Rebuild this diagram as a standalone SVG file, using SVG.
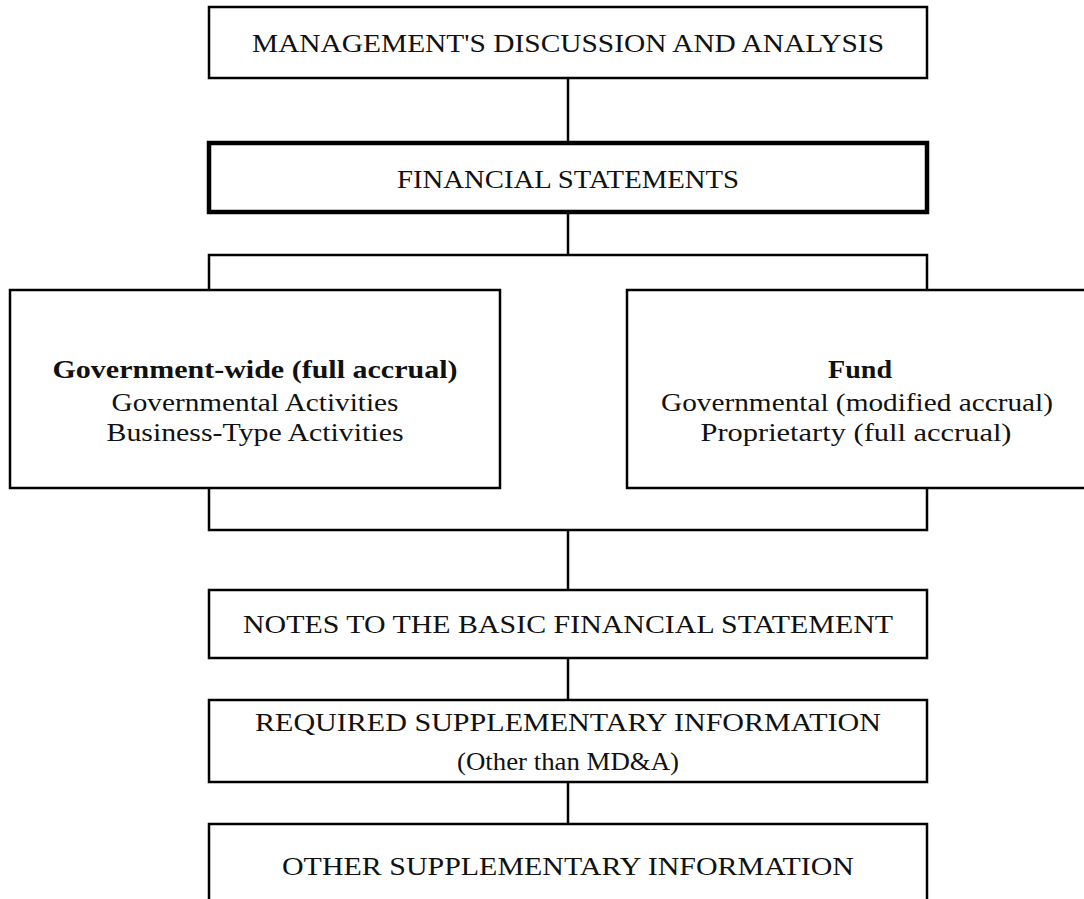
<svg xmlns="http://www.w3.org/2000/svg" width="1084" height="899" viewBox="0 0 1084 899">
<style>
.box{fill:#fff;stroke:#000;stroke-width:2.5}
.thick{fill:#fff;stroke:#000;stroke-width:4.5}
.ln{fill:none;stroke:#000;stroke-width:2.5}
.t{font-family:"Liberation Serif","Times New Roman",serif;font-size:25px;fill:#111;text-anchor:middle}
.b{font-weight:bold}
</style>
<rect width="1084" height="899" fill="#fff"/>
<g id="connectors">
<line class="ln" x1="568" y1="78" x2="568" y2="143"/>
<line class="ln" x1="568" y1="212" x2="568" y2="255"/>
<polyline class="ln" points="209,290 209,255 927,255 927,290"/>
<polyline class="ln" points="209,488 209,530 927,530 927,488"/>
<line class="ln" x1="568" y1="530" x2="568" y2="590"/>
<line class="ln" x1="568" y1="658" x2="568" y2="700"/>
<line class="ln" x1="568" y1="782" x2="568" y2="824"/>
</g>
<g id="mda">
<rect class="box" x="209" y="7" width="718" height="71"/>
<text class="t" x="568" y="52" textLength="632" lengthAdjust="spacingAndGlyphs">MANAGEMENT'S DISCUSSION AND ANALYSIS</text>
</g>
<g id="fs">
<rect class="thick" x="209" y="143" width="718" height="69"/>
<text class="t" x="568" y="188" textLength="342" lengthAdjust="spacingAndGlyphs">FINANCIAL STATEMENTS</text>
</g>
<g id="govwide">
<rect class="box" x="10" y="290" width="490" height="198"/>
<text class="t b" x="255" y="378" textLength="405" lengthAdjust="spacingAndGlyphs">Government-wide (full accrual)</text>
<text class="t" x="255" y="411" textLength="287" lengthAdjust="spacingAndGlyphs">Governmental Activities</text>
<text class="t" x="255" y="441" textLength="297" lengthAdjust="spacingAndGlyphs">Business-Type Activities</text>
</g>
<g id="fund">
<rect class="box" x="627" y="290" width="470" height="198"/>
<text class="t b" x="860" y="378" textLength="64" lengthAdjust="spacingAndGlyphs">Fund</text>
<text class="t" x="857" y="411" textLength="392" lengthAdjust="spacingAndGlyphs">Governmental (modified accrual)</text>
<text class="t" x="856" y="441" textLength="311" lengthAdjust="spacingAndGlyphs">Proprietarty (full accrual)</text>
</g>
<g id="notes">
<rect class="box" x="209" y="590" width="718" height="68"/>
<text class="t" x="568" y="633" textLength="650" lengthAdjust="spacingAndGlyphs">NOTES TO THE BASIC FINANCIAL STATEMENT</text>
</g>
<g id="rsi">
<rect class="box" x="209" y="700" width="718" height="82"/>
<text class="t" x="568" y="731" textLength="626" lengthAdjust="spacingAndGlyphs">REQUIRED SUPPLEMENTARY INFORMATION</text>
<text class="t" x="568" y="770" textLength="222" lengthAdjust="spacingAndGlyphs">(Other than MD&amp;A)</text>
</g>
<g id="osi">
<rect class="box" x="209" y="824" width="718" height="100"/>
<text class="t" x="568" y="875" textLength="572" lengthAdjust="spacingAndGlyphs">OTHER SUPPLEMENTARY INFORMATION</text>
</g>
</svg>
